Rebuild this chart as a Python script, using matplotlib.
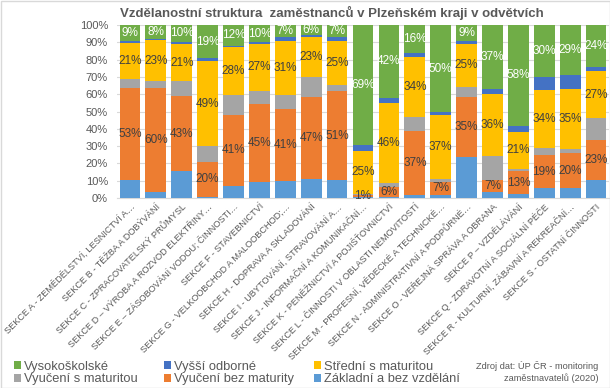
import matplotlib
matplotlib.use("Agg")
import matplotlib.pyplot as plt
from matplotlib.patches import Rectangle
import numpy as np

plt.rcParams['font.family'] = ['Liberation Sans', 'DejaVu Sans']

categories = [
    "SEKCE A - ZEMĚDĚLSTVÍ, LESNICTVÍ A…",
    "SEKCE B - TĚŽBA A DOBÝVÁNÍ",
    "SEKCE C - ZPRACOVATELSKÝ PRŮMYSL",
    "SEKCE D – VÝROBA A ROZVOD ELEKTŘINY…",
    "SEKCE E – ZÁSOBOVÁNÍ VODOU; ČINNOSTI…",
    "SEKCE F - STAVEBNICTVÍ",
    "SEKCE G - VELKOOBCHOD A MALOOBCHOD;…",
    "SEKCE H - DOPRAVA A SKLADOVÁNÍ",
    "SEKCE I - UBYTOVÁNÍ, STRAVOVÁNÍ A…",
    "SEKCE J - INFORMAČNÍ A KOMUNIKAČNÍ…",
    "SEKCE K - PENĚŽNICTVÍ A POJIŠŤOVNICTVÍ",
    "SEKCE L - ČINNOSTI V OBLASTI NEMOVITOSTÍ",
    "SEKCE M - PROFESNÍ, VĚDECKÉ A TECHNICKÉ…",
    "SEKCE N - ADMINISTRATIVNÍ A PODPŮRNÉ…",
    "SEKCE O - VEŘEJNÁ SPRÁVA A OBRANA",
    "SEKCE P – VZDĚLÁVÁNÍ",
    "SEKCE Q - ZDRAVOTNÍ A SOCIÁLNÍ PÉČE",
    "SEKCE R - KULTURNÍ, ZÁBAVNÍ A REKREAČNÍ…",
    "SEKCE S - OSTATNÍ ČINNOSTI",
]

zakladni = [10.5, 3.5, 15.7, 0.8, 7.0, 9.2, 10.0, 11.1, 10.3, 0.3, 0.3, 1.9, 1.9, 23.8, 3.4, 2.3, 5.7, 5.7, 10.3]
vyuc_bez = [53.0, 60.3, 43.0, 20.0, 41.0, 45.4, 41.3, 47.1, 51.4, 1.2, 6.0, 36.8, 7.3, 34.8, 6.9, 13.2, 19.2, 20.2, 23.3]
vyuc_s = [5.0, 4.0, 8.8, 9.2, 11.4, 7.3, 8.1, 11.5, 3.8, 0.8, 2.3, 8.2, 1.9, 5.4, 13.8, 1.5, 3.8, 2.3, 12.5]
stredni = [21.0, 23.3, 21.3, 49.0, 27.6, 27.2, 31.4, 23.4, 25.3, 25.0, 46.4, 34.4, 36.9, 25.3, 36.2, 21.4, 33.9, 35.0, 27.3]
vyssi = [1.2, 0.6, 1.5, 1.7, 1.0, 1.0, 2.1, 1.2, 2.1, 3.3, 2.9, 2.3, 1.7, 1.7, 2.9, 3.4, 7.1, 8.1, 2.3]
vysoko = [9.3, 8.3, 9.7, 19.3, 12.0, 9.9, 7.1, 5.7, 7.1, 69.4, 42.1, 16.4, 50.3, 9.0, 36.8, 58.2, 30.3, 28.7, 24.3]

series = [
    ("Základní a bez vzdělání", zakladni, "#5B9BD5", None),
    ("Vyučení bez maturity", vyuc_bez, "#ED7D31", "#404040"),
    ("Vyučení s maturitou", vyuc_s, "#A5A5A5", None),
    ("Střední s maturitou", stredni, "#FFC000", "#404040"),
    ("Vyšší odborné", vyssi, "#4472C4", None),
    ("Vysokoškolské", vysoko, "#70AD47", "white"),
]

fig = plt.figure(figsize=(6.10, 3.88), dpi=100)
ax = fig.add_axes([117/610, 1-198/388, 492/610, 173/388])

x = np.arange(len(categories))
bottom = np.zeros(len(categories))
handles = {}
for name, vals, color, lcol in series:
    v = np.array(vals)
    b = ax.bar(x, v, width=0.8, bottom=bottom, color=color, zorder=3, label=name)
    handles[name] = b
    if lcol is not None:
        for xi, vi, bi in zip(x, v, bottom):
            ax.text(xi, bi + vi/2, f"{round(vi):d}%", ha='center', va='center',
                    color=lcol, fontsize=8.5, zorder=4)
    bottom += v

ax.set_xlim(-0.5, len(categories)-0.5)
ax.set_ylim(0, 100)
ax.set_yticks(np.arange(0, 101, 10))
ax.set_yticklabels([f"{t}%" for t in range(0, 101, 10)], fontsize=8, color="#595959")
ax.yaxis.grid(True, color="#D9D9D9", linewidth=0.8, zorder=0)
ax.set_axisbelow(True)
for s in ['top', 'right', 'left']:
    ax.spines[s].set_visible(False)
ax.spines['bottom'].set_color("#D9D9D9")
ax.tick_params(axis='y', length=0, pad=6.5)
ax.tick_params(axis='x', length=0, pad=3)
ax.set_xticks(x)
ax.set_xticklabels(categories, rotation=45, ha='right', rotation_mode='anchor',
                   fontsize=6.6, color="#595959")

fig.text(332/610, 1-13/388, "Vzdělanostní struktura  zaměstnanců v Plzeňském kraji v odvětvích",
         ha='center', va='center', fontsize=9.5, fontweight='bold', color="#595959")

columns = [
    (14, ["Vysokoškolské", "Vyučení s maturitou"]),
    (164, ["Vyšší odborné", "Vyučení bez maturity"]),
    (314, ["Střední s maturitou", "Základní a bez vzdělání"]),
]
for xpos, names in columns:
    leg = fig.legend([handles[n] for n in names], names, loc='center left',
                     bbox_to_anchor=(xpos/610, 1-373/388), frameon=False,
                     fontsize=9.3, handlelength=0.55, handleheight=0.55, handletextpad=0.25,
                     labelspacing=0.05, borderpad=0, borderaxespad=0)
    for t in leg.get_texts():
        t.set_color("#595959")

fig.text(598/610, 1-372/388, "Zdroj dat: ÚP ČR - monitoring\nzaměstnavatelů (2020)",
         ha='right', va='center', fontsize=6.7, color="#595959", multialignment='right')

fig.patches.append(Rectangle((0.5/610, 0.5/388), 1-1/610, 1-1/388, transform=fig.transFigure,
                             fill=False, edgecolor="#D9D9D9", linewidth=1))

fig.savefig("out.png", dpi=100)
